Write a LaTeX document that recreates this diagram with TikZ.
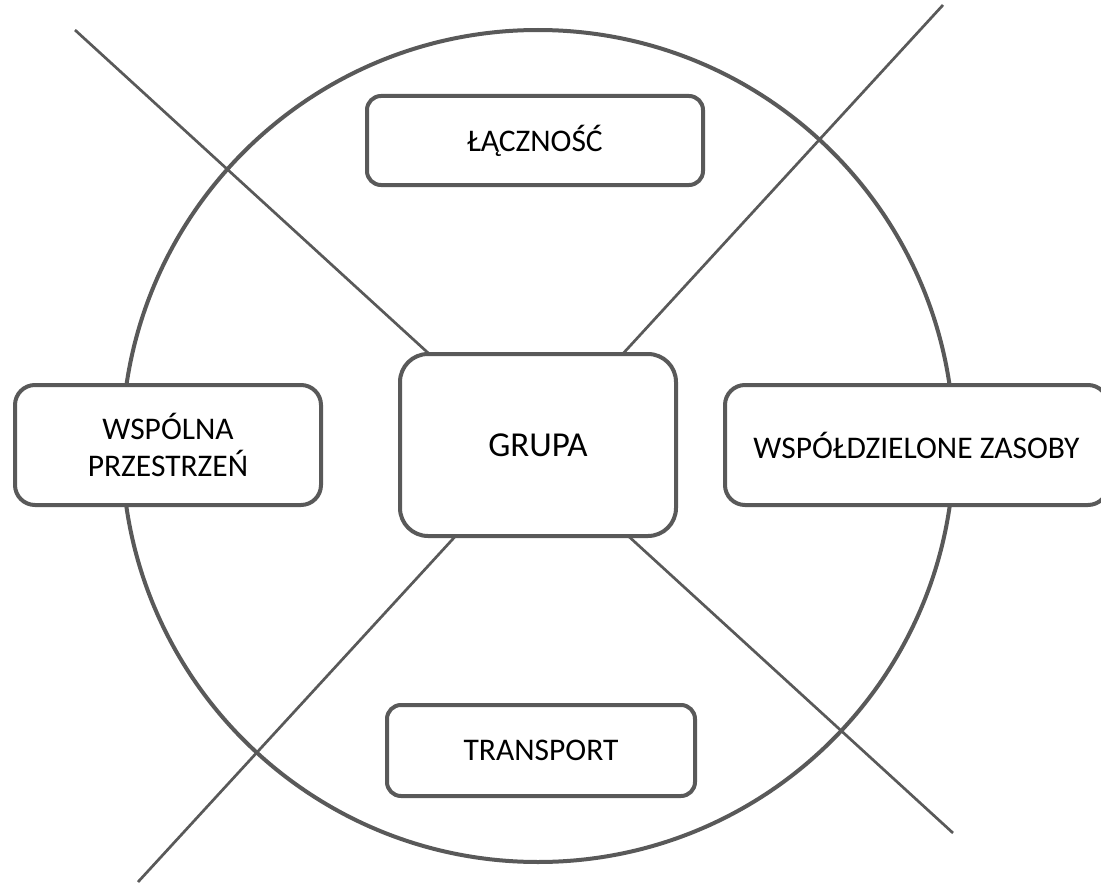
\documentclass[tikz,border=0pt]{standalone}
\usepackage{fontspec}
\setmainfont{Carlito}
\definecolor{linegray}{HTML}{595959}
\begin{document}
\begin{tikzpicture}[x=1pt,y=-1pt,
  box/.style={draw=linegray, line width=4pt, fill=white, rectangle, align=center,
    inner sep=0pt, font=\fontsize{31.5}{37}\selectfont, text=black},
  crossline/.style={draw=linegray, line width=2.7pt},
  ring/.style={draw=linegray, line width=4pt}]
\useasboundingbox (0,0) rectangle (1101,883);
% cross lines
\coordinate (tl) at (75,30);
\coordinate (br) at (953,833);
\coordinate (bl) at (138,882);
\coordinate (tr) at (943,5);
\draw[crossline] (tl) -- (br);
\draw[crossline] (bl) -- (tr);
% circle
\node[ring, circle, minimum size=832pt, inner sep=0pt] (ring) at (538,446) {};
% boxes
\node[box, rounded corners=28pt, minimum width=276pt, minimum height=182pt,
  font=\fontsize{35}{40}\selectfont] (grupa) at (538,445) {GRUPA};
\node[box, rounded corners=14pt, minimum width=336pt, minimum height=89pt] (lacz) at (535,140.5) {ŁĄCZNOŚĆ};
\node[box, rounded corners=20pt, minimum width=306pt, minimum height=120pt] (wsp) at (168,445) {WSPÓLNA\\PRZESTRZEŃ};
\node[box, rounded corners=20pt, minimum width=383pt, minimum height=120pt] (zas) at (916.5,445) {WSPÓŁDZIELONE ZASOBY};
\node[box, rounded corners=14pt, minimum width=308pt, minimum height=91pt] (trans) at (541,750.5) {TRANSPORT};
\end{tikzpicture}
\end{document}
